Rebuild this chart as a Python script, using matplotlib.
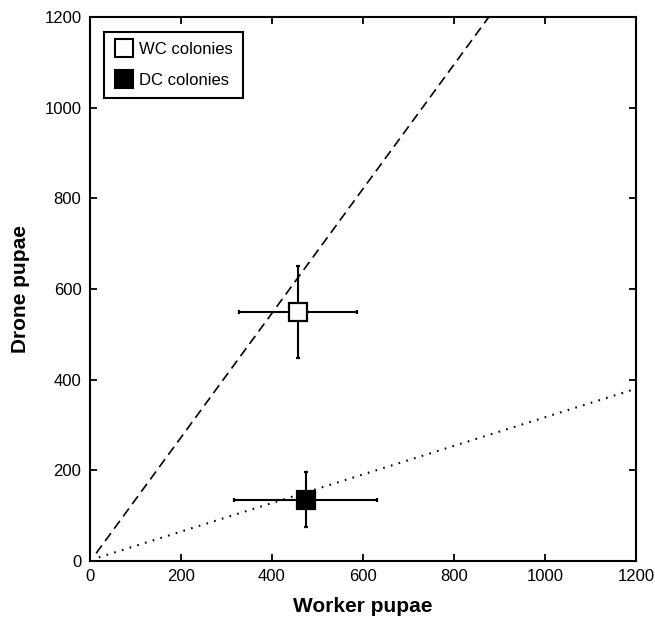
import matplotlib
matplotlib.use('Agg')
import matplotlib.pyplot as plt
from matplotlib.lines import Line2D

plt.rcParams['font.family'] = ['Liberation Sans', 'DejaVu Sans']
plt.rcParams['lines.scale_dashes'] = False

# colony means (worker pupae, drone pupae) with error ranges
groups = ['WC colonies', 'DC colonies']
worker = [458, 475]
drone = [549, 135]
worker_err = [130, 157]
drone_err = [102, 61]
face = ['white', 'black']

# reference lines (start/end points in data units)
dash_x = [14, 877]
dash_y = [17, 1200]
dot_x = [20, 1200]
dot_y = [8, 380]

ticks = [0, 200, 400, 600, 800, 1000, 1200]

fig = plt.figure(figsize=(6.55, 6.22), dpi=100)
ax = fig.add_axes([0.137, 0.098, 0.834, 0.875])

ax.plot(dash_x, dash_y, color='black', linewidth=1.2, dashes=(7, 4))
ax.plot(dot_x, dot_y, color='black', linewidth=1.5, dashes=(1.2, 4.6))

for i in range(len(groups)):
    ax.errorbar(worker[i], drone[i], xerr=worker_err[i], yerr=drone_err[i],
                fmt='s', markersize=12.5, markerfacecolor=face[i],
                markeredgecolor='black', markeredgewidth=1.6,
                ecolor='black', elinewidth=1.5, capsize=1.5, capthick=1.5,
                zorder=3)

ax.set_xlim(0, 1200)
ax.set_ylim(0, 1200)
ax.set_xticks(ticks)
ax.set_yticks(ticks)
ax.tick_params(direction='in', length=5, width=1.3, top=True, right=True,
               labelsize=12, pad=6)
for sp in ax.spines.values():
    sp.set_linewidth(1.5)

ax.set_xlabel('Worker pupae', fontsize=15, fontweight='bold', labelpad=9)
ax.set_ylabel('Drone pupae', fontsize=15, fontweight='bold', labelpad=10)

handles = [Line2D([], [], linestyle='none', marker='s', markersize=13,
                  markerfacecolor=face[i], markeredgecolor='black',
                  markeredgewidth=1.5) for i in range(len(groups))]
leg = ax.legend(handles, groups, loc='upper left',
                bbox_to_anchor=(0.026, 0.972), borderaxespad=0,
                fancybox=False, edgecolor='black', framealpha=1,
                fontsize=12, handletextpad=0.3, handlelength=1.2,
                borderpad=0.6, labelspacing=0.95)
leg.get_frame().set_linewidth(1.5)

fig.savefig('out.png', dpi=100, facecolor='white')
